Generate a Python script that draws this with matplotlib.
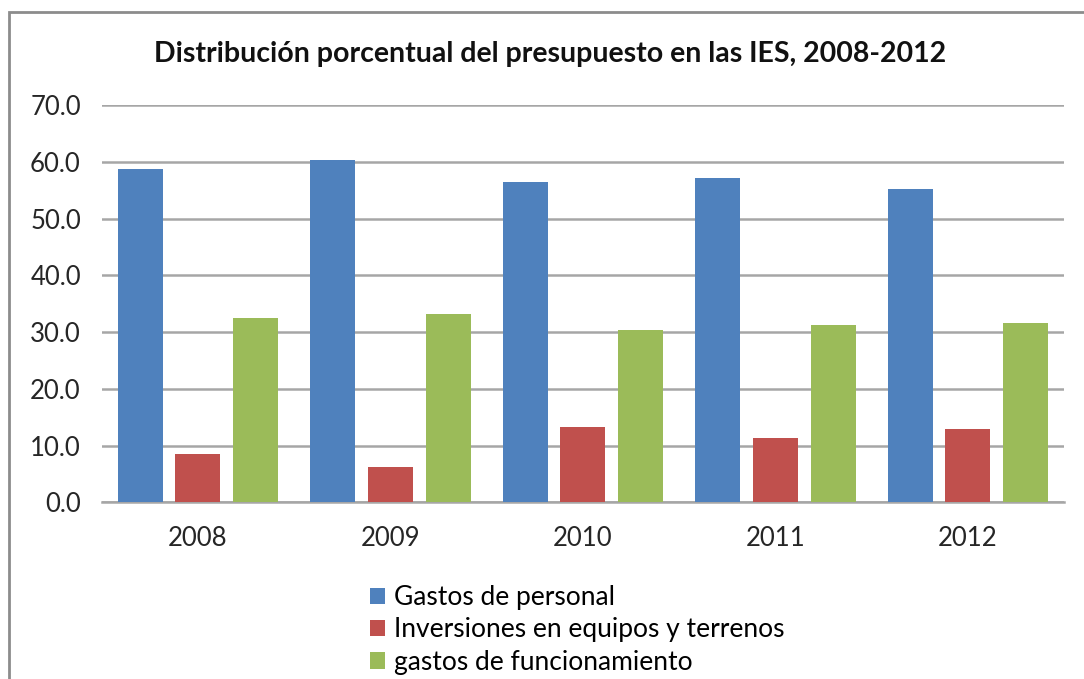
import matplotlib
matplotlib.use('Agg')
import matplotlib.pyplot as plt
import numpy as np
from matplotlib.patches import Rectangle, Patch

# data
years = ['2008', '2009', '2010', '2011', '2012']
personal = [58.8, 60.3, 56.4, 57.1, 55.2]
inversiones = [8.6, 6.2, 13.2, 11.3, 12.9]
funcionamiento = [32.4, 33.1, 30.3, 31.2, 31.6]
series_names = ['Gastos de personal', 'Inversiones en equipos y terrenos',
                'gastos de funcionamiento']
colours = ['#4F81BD', '#C0504D', '#9BBB59']

plt.rcParams['font.family'] = ['Lato', 'DejaVu Sans']

fig = plt.figure(figsize=(10.84, 6.79), dpi=100)
ax = fig.add_axes([0.0938, 0.2602, 0.8878, 0.5852])

x = np.arange(len(years))
w = 0.234
step = 0.3
for k, (vals, col) in enumerate(zip([personal, inversiones, funcionamiento], colours)):
    ax.bar(x + (k - 1) * step, vals, width=w, color=col, zorder=3)

ax.set_xlim(-0.5, len(years) - 0.5)
ax.set_ylim(0, 70)
ax.set_yticks(np.arange(0, 71, 10))
ax.set_yticklabels([f'{v:.1f}' for v in np.arange(0, 71, 10)], fontsize=18.5, color='#262626')
ax.set_xticks(x)
ax.set_xticklabels(years, fontsize=18.5, color='#262626')
ax.tick_params(length=0, axis='y', pad=15)
ax.tick_params(length=0, axis='x', pad=17)
ax.yaxis.grid(True, color='#A6A6A6', lw=1.8, zorder=0)
for s in ['left', 'right', 'top']:
    ax.spines[s].set_visible(False)
ax.spines['bottom'].set_color('#A6A6A6')
ax.spines['bottom'].set_linewidth(1.8)
ax.set_axisbelow(True)

fig.text(0.507, 0.92, 'Distribución porcentual del presupuesto en las IES, 2008-2012',
         ha='center', va='center', fontsize=20.5, fontweight='bold', color='#111111')

handles = [Patch(facecolor=c, edgecolor='none') for c in colours]
fig.legend(handles, series_names, loc='upper left', bbox_to_anchor=(0.341, 0.138),
           frameon=False, fontsize=19, handlelength=0.6, handleheight=0.6,
           handletextpad=0.32, labelspacing=0.27, borderpad=0, borderaxespad=0)

# outer chart frame
fig.add_artist(Rectangle((8.7 / 1084, -0.1), 1.2, 1 - 12 / 679 + 0.1,
                         transform=fig.transFigure, fill=False,
                         edgecolor='#8C8C8C', lw=2))

fig.savefig('out.png', dpi=100)
